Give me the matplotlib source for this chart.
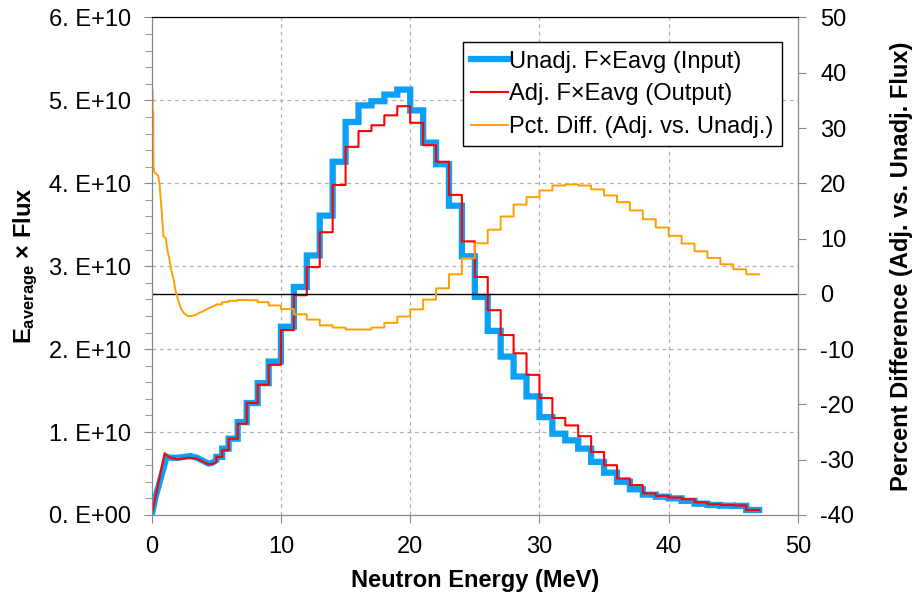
import numpy as np
import matplotlib
matplotlib.use("Agg")
import matplotlib.pyplot as plt
from matplotlib.ticker import MultipleLocator, FuncFormatter

plt.rcParams['font.family'] = ['Liberation Sans', 'DejaVu Sans']
plt.rcParams['axes.unicode_minus'] = False
plt.rcParams['mathtext.fontset'] = 'custom'
plt.rcParams['mathtext.rm'] = 'Liberation Sans'
plt.rcParams['mathtext.bf'] = 'Liberation Sans:bold'

# --- data -------------------------------------------------------------
# fine low-energy points (MeV, flux in 1e10 units)
low_e_in = [0.0, 0.3, 1.15, 1.5, 2.0, 2.5, 3.0, 3.5, 4.0, 4.4, 4.7, 5.0]
low_in = [0.0, 0.22, 0.70, 0.69, 0.69, 0.70, 0.71, 0.69, 0.65, 0.62, 0.63, 0.66]
low_e_out = [0.0, 1.0, 1.3, 2.0, 2.8, 3.5, 4.0, 4.4, 4.8, 5.0]
low_out = [0.0, 0.745, 0.70, 0.67, 0.69, 0.68, 0.64, 0.61, 0.62, 0.64]
low_e_pct = [0.0, 0.01, 0.03, 0.06, 0.08, 0.11, 0.14, 0.2, 0.5, 0.6, 0.7, 0.8,
             0.9, 1.1, 1.2, 1.35, 1.5, 1.7, 1.85, 1.95, 2.1, 2.3, 2.5, 2.8,
             3.1, 3.4, 3.7, 4.1, 4.5, 5.0]
low_pct = [-35, 10, 37, 37, 25, 33, 23, 22, 21.4, 20, 17, 14,
           10.5, 10, 8, 6.5, 4.5, 2.5, 0.5, -0.3, -1.6, -2.8, -3.5, -4.0,
           -4.0, -3.8, -3.4, -3.0, -2.5, -2.0]

# group bin edges above 5 MeV
edges = [5.0, 5.45, 5.95, 6.65, 7.35, 8.2, 9.05] + list(range(10, 48))

flux_in = [0.70, 0.80, 0.92, 1.12, 1.35, 1.59, 1.85,
           2.27, 2.75, 3.13, 3.61, 4.26, 4.74, 4.94, 4.99, 5.07, 5.13,
           4.88, 4.49, 4.23, 3.73, 3.12, 2.63, 2.22, 1.91, 1.67, 1.43,
           1.18, 0.98, 0.90, 0.80, 0.64, 0.51, 0.40, 0.31, 0.245, 0.22,
           0.20, 0.17, 0.136, 0.12, 0.112, 0.11, 0.06]
flux_out = [0.70, 0.78, 0.92, 1.10, 1.35, 1.57, 1.81,
            2.23, 2.65, 2.99, 3.41, 3.98, 4.44, 4.63, 4.70, 4.82, 4.93,
            4.73, 4.46, 4.26, 3.86, 3.30, 2.87, 2.47, 2.17, 1.95, 1.69,
            1.41, 1.17, 1.08, 0.95, 0.76, 0.60, 0.44, 0.36, 0.26, 0.23,
            0.21, 0.19, 0.153, 0.13, 0.12, 0.115, 0.06]
pct_diff = [-1.9, -1.5, -1.25, -1.1, -1.15, -1.5, -2.1,
            -2.75, -3.7, -4.65, -5.7, -6.1, -6.45, -6.45, -6.1, -5.25, -4.1,
            -2.8, -1.04, 1.0, 3.54, 6.45, 9.15, 11.6, 14.0, 16.15, 17.5,
            18.7, 19.6, 19.8, 19.6, 18.9, 17.8, 16.6, 15.1, 13.5, 12.0,
            10.5, 9.1, 7.7, 6.5, 5.35, 4.45, 3.54]


def step_path(low_x, low_y, edges, vals):
    xs = np.repeat(edges, 2)[1:-1]
    ys = np.repeat(vals, 2)
    return np.concatenate([low_x, xs]), np.concatenate([low_y, ys])


x_in, y_in = step_path(low_e_in, low_in, edges, flux_in)
x_out, y_out = step_path(low_e_out, low_out, edges, flux_out)
x_pct, y_pct = step_path(low_e_pct, low_pct, edges, pct_diff)

# --- plot -------------------------------------------------------------
fs = 17
fig = plt.figure(figsize=(9.14, 6.03), dpi=100)
ax = fig.add_axes([0.166, 0.146, 0.707, 0.825])
ax2 = ax.twinx()

l1, = ax.plot(x_in, np.array(y_in) * 1e10, color='#0AA0F5', lw=4.5,
              solid_joinstyle='miter', label='Unadj. F×Eavg (Input)')
l2, = ax.plot(x_out, np.array(y_out) * 1e10, color='#FF0000', lw=1.5,
              label='Adj. F×Eavg (Output)')
ax2.axhline(0, color='black', lw=1.0)
l3, = ax2.plot(x_pct, y_pct, color='#FF9F00', lw=1.4,
               label='Pct. Diff. (Adj. vs. Unadj.)')

ax.set_xlim(0, 50)
ax.set_ylim(0, 6e10)
ax2.set_ylim(-40, 50)

ax.xaxis.set_major_locator(MultipleLocator(10))
ax.yaxis.set_major_locator(MultipleLocator(1e10))
ax.yaxis.set_minor_locator(MultipleLocator(2e9))
ax2.yaxis.set_major_locator(MultipleLocator(10))


def sci_fmt(v, pos):
    if v == 0:
        return '0. E+00'
    return '%d. E+10' % round(v / 1e10)


ax.yaxis.set_major_formatter(FuncFormatter(sci_fmt))

ax.grid(True, which='major', linestyle=(0, (3, 3)), color='#B0B0B0', lw=0.9)
ax.tick_params(axis='both', which='major', labelsize=fs, length=6,
               color='#888888', direction='out')
ax.tick_params(axis='y', which='major', pad=9)
ax.tick_params(axis='y', which='minor', length=5, color='#888888')
ax.tick_params(axis='x', top=False, pad=9)
ax2.tick_params(axis='y', labelsize=fs, length=6, color='#888888', pad=10)

for name in ['left', 'bottom', 'right']:
    ax.spines[name].set_color('#888888')
    ax2.spines[name].set_color('#888888')
ax.spines['top'].set_color('black')
ax2.spines['top'].set_color('black')

ax.set_xlabel('Neutron Energy (MeV)', fontsize=fs, fontweight='bold',
              labelpad=8)
ax.set_ylabel(r'$\mathbf{E_{average}}$ × Flux', fontsize=fs,
              fontweight='bold', labelpad=6)
ax2.set_ylabel('Percent Difference (Adj. vs. Unadj. Flux)', fontsize=fs,
               fontweight='bold', labelpad=26)

leg = ax2.legend(handles=[l1, l2, l3], loc='upper right',
                 bbox_to_anchor=(0.975, 0.95), fontsize=fs, frameon=True,
                 fancybox=False, edgecolor='black', framealpha=1,
                 handlelength=1.55, handletextpad=0.05, borderpad=0.35,
                 labelspacing=0.45, borderaxespad=0)
leg.get_frame().set_linewidth(1.0)

fig.savefig('out.png', dpi=100)
